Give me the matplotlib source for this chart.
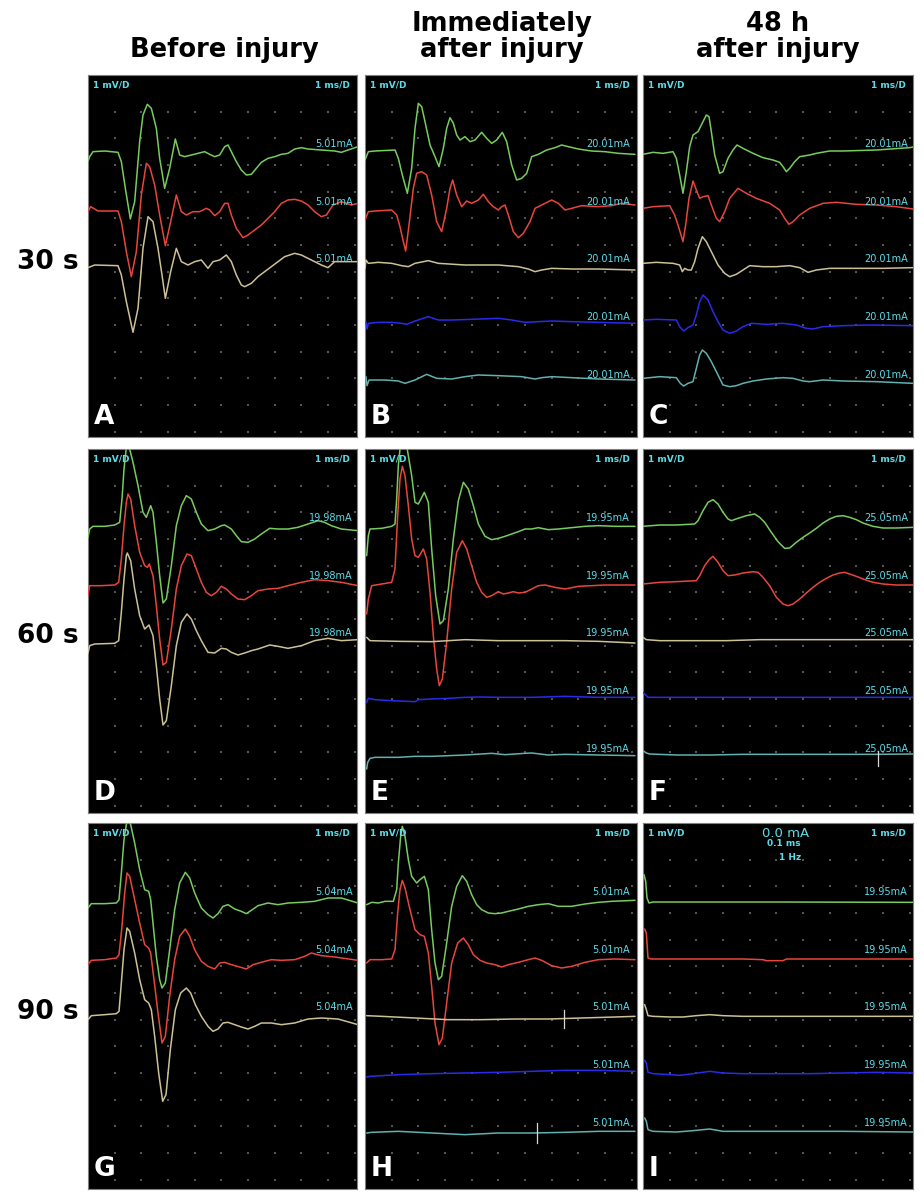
#!/usr/bin/env python3
"""
Painel 3x3 de traçados de osciloscópio (potenciais evocados) antes e depois da lesão.

Cada traçado é uma lista de pares (amostra, nível): 80 amostras por ms e
80 contagens por divisão (1 mV), nível medido para baixo a partir do topo da tela.
"""

import matplotlib.pyplot as plt

SAMPLES_PER_MS = 80
COUNTS_PER_MV = 80

COLUMN_TITLES = ["Before injury", "Immediately\nafter injury", "48 h\nafter injury"]
ROW_TITLES = ["30 s", "60 s", "90 s"]
PANEL_LETTERS = ["A", "B", "C", "D", "E", "F", "G", "H", "I"]

# corrente de estímulo mostrada em cada painel, um rótulo por canal
A_CURRENT = ["5.01mA"] * 3
B_CURRENT = ["20.01mA"] * 5
C_CURRENT = ["20.01mA"] * 5
D_CURRENT = ["19.98mA"] * 3
E_CURRENT = ["19.95mA"] * 5
F_CURRENT = ["25.05mA"] * 5
G_CURRENT = ["5.04mA"] * 3
H_CURRENT = ["5.01mA"] * 5
I_CURRENT = ["19.95mA"] * 5

# ---- 30 s ----
A_GREEN = [(0, 258), (5, 245), (15, 230), (50, 228), (90, 232), (100, 260), (112, 340), (127, 432),
           (140, 380), (155, 200), (165, 120), (178, 88), (190, 100), (205, 160), (215, 250), (230, 340),
           (245, 280), (262, 192), (275, 240), (290, 245), (310, 240), (330, 235), (350, 230), (365, 238),
           (380, 245), (395, 240), (410, 215), (420, 210), (430, 230), (445, 260), (460, 285), (475, 300),
           (490, 298), (505, 280), (520, 262), (540, 250), (560, 245), (580, 238), (600, 235), (620, 222),
           (640, 218), (660, 222), (700, 225), (740, 228), (760, 232), (780, 225), (810, 215)]
A_RED = [(0, 410), (8, 395), (30, 408), (90, 408), (100, 440), (115, 530), (130, 605), (145, 530),
         (160, 360), (175, 265), (185, 275), (200, 330), (215, 420), (232, 512), (248, 440), (265, 360),
         (280, 410), (295, 420), (315, 410), (335, 410), (355, 400), (365, 405), (380, 422), (395, 410),
         (410, 385), (420, 385), (430, 420), (445, 460), (465, 488), (480, 480), (500, 465), (520, 450),
         (540, 430), (560, 410), (580, 385), (600, 375), (620, 373), (640, 378), (660, 390), (680, 410),
         (700, 425), (715, 420), (735, 390), (760, 380), (790, 390), (810, 385)]
A_TAN = [(0, 578), (20, 570), (90, 572), (100, 600), (115, 680), (135, 772), (150, 700), (165, 520),
         (180, 425), (195, 440), (210, 520), (222, 600), (232, 670), (248, 590), (265, 520), (280, 560),
         (300, 570), (320, 560), (340, 555), (360, 580), (375, 560), (395, 555), (415, 540), (430, 560),
         (445, 600), (460, 630), (470, 635), (490, 625), (510, 605), (530, 590), (550, 575), (570, 560),
         (590, 545), (620, 535), (640, 540), (660, 550), (700, 570), (720, 578), (740, 560), (770, 560),
         (810, 560)]

B_GREEN = [(0, 255), (10, 230), (30, 228), (90, 225), (100, 250), (112, 300), (127, 355), (140, 280),
           (150, 160), (160, 85), (170, 95), (180, 140), (195, 210), (210, 245), (222, 275), (235, 220),
           (245, 160), (255, 128), (265, 145), (275, 180), (285, 195), (300, 185), (315, 200), (330, 195),
           (350, 172), (365, 190), (380, 205), (395, 195), (412, 172), (425, 200), (440, 270), (455, 315),
           (470, 310), (485, 295), (500, 245), (520, 238), (545, 225), (570, 218), (590, 210), (610, 215),
           (640, 222), (680, 228), (720, 230), (760, 235), (810, 238)]
B_RED = [(0, 435), (10, 410), (30, 408), (80, 405), (95, 420), (105, 455), (115, 500), (122, 528),
         (132, 450), (145, 340), (155, 295), (170, 290), (185, 300), (200, 360), (215, 440), (230, 470),
         (245, 400), (255, 340), (263, 315), (275, 360), (290, 395), (305, 378), (320, 385), (340, 375),
         (355, 358), (370, 380), (385, 395), (400, 405), (410, 395), (420, 390), (430, 420), (445, 470),
         (460, 488), (475, 475), (495, 440), (510, 400), (530, 390), (560, 375), (580, 385), (600, 405),
         (620, 400), (650, 392), (700, 395), (740, 392), (770, 385), (810, 390)]
B_TAN = [(0, 580), (3, 555), (10, 565), (40, 562), (80, 565), (110, 572), (130, 575), (150, 565),
         (190, 557), (220, 565), (300, 570), (400, 570), (460, 575), (490, 582), (510, 590), (530, 585),
         (560, 580), (620, 582), (700, 582), (810, 585)]
B_BLUE = [(3, 740), (6, 762), (10, 745), (40, 742), (80, 742), (110, 745), (125, 748), (150, 738),
          (190, 725), (220, 735), (260, 735), (320, 733), (400, 730), (440, 735), (480, 742), (520, 740),
          (560, 738), (620, 740), (700, 742), (810, 745)]
B_TEAL = [(3, 905), (6, 932), (12, 915), (60, 915), (100, 918), (120, 925), (150, 915), (185, 898),
          (215, 910), (260, 912), (300, 905), (340, 900), (400, 902), (470, 905), (510, 912), (530, 908),
          (560, 905), (620, 908), (700, 912), (810, 915)]

C_GREEN = [(0, 238), (30, 232), (60, 235), (90, 230), (100, 250), (110, 300), (120, 355), (130, 290),
           (140, 215), (150, 180), (165, 170), (175, 150), (190, 120), (198, 125), (205, 170), (215, 240),
           (230, 295), (240, 290), (255, 250), (270, 225), (282, 210), (300, 220), (330, 235), (360, 248),
           (390, 255), (410, 262), (420, 275), (430, 290), (440, 280), (455, 260), (470, 245), (500, 240),
           (520, 235), (560, 228), (600, 228), (700, 225), (800, 218), (810, 216)]
C_RED = [(0, 400), (30, 395), (80, 392), (95, 420), (105, 450), (120, 500), (128, 450), (138, 370),
         (150, 318), (160, 345), (170, 370), (180, 365), (195, 362), (205, 390), (220, 430), (230, 440),
         (245, 410), (260, 370), (285, 340), (310, 355), (340, 370), (380, 385), (410, 405), (425, 430),
         (438, 448), (450, 440), (470, 420), (500, 400), (540, 385), (580, 382), (640, 388), (700, 390),
         (760, 395), (810, 402)]
C_TAN = [(0, 565), (40, 562), (90, 565), (110, 570), (118, 590), (125, 580), (135, 585), (145, 585),
         (155, 560), (165, 520), (178, 485), (190, 500), (205, 530), (225, 570), (245, 595), (260, 605),
         (280, 598), (300, 585), (320, 572), (360, 575), (400, 575), (440, 572), (470, 578), (495, 592),
         (520, 585), (560, 580), (640, 580), (720, 580), (810, 578)]
C_BLUE = [(0, 735), (40, 733), (100, 735), (110, 755), (122, 768), (135, 758), (150, 750), (160, 720),
          (170, 680), (180, 660), (195, 675), (210, 710), (225, 740), (240, 765), (260, 775), (280, 768),
          (300, 755), (325, 745), (370, 748), (420, 745), (460, 750), (490, 760), (510, 762), (540, 755),
          (600, 752), (680, 750), (810, 752)]
C_TEAL = [(0, 910), (50, 905), (100, 908), (112, 925), (122, 933), (135, 925), (150, 920), (160, 880),
          (170, 840), (178, 825), (190, 835), (205, 860), (225, 900), (240, 930), (260, 935), (280, 932),
          (300, 925), (330, 918), (370, 912), (420, 908), (450, 910), (480, 918), (500, 920), (540, 915),
          (600, 918), (700, 920), (810, 925)]

# ---- 60 s ----
D_GREEN = [(0, 265), (5, 240), (15, 232), (50, 232), (80, 228), (95, 220), (102, 150), (108, 60),
           (115, -5), (125, 0), (135, 40), (150, 110), (165, 190), (175, 205), (188, 170), (195, 190),
           (205, 280), (215, 380), (225, 462), (235, 450), (250, 350), (265, 230), (280, 170), (295, 140),
           (310, 150), (325, 190), (340, 225), (360, 245), (380, 240), (400, 230), (410, 228), (430, 240),
           (445, 260), (460, 278), (480, 280), (500, 270), (520, 255), (545, 238), (570, 240), (600, 240),
           (630, 235), (660, 225), (690, 215), (710, 220), (730, 230), (760, 240), (810, 245)]
D_RED = [(0, 438), (5, 410), (40, 410), (80, 408), (92, 400), (100, 330), (108, 230), (115, 160),
         (120, 135), (128, 150), (140, 230), (155, 310), (170, 350), (178, 355), (184, 345), (190, 365),
         (195, 380), (205, 470), (215, 570), (225, 648), (235, 640), (250, 540), (265, 420), (280, 350),
         (297, 315), (310, 320), (325, 360), (340, 400), (355, 430), (370, 440), (385, 430), (400, 412),
         (415, 420), (430, 435), (450, 450), (470, 452), (490, 440), (510, 425), (540, 420), (570, 418),
         (600, 410), (640, 400), (680, 392), (720, 395), (760, 400), (810, 410)]
D_TAN = [(0, 612), (5, 590), (20, 585), (80, 583), (92, 575), (100, 490), (108, 390), (115, 320),
         (118, 312), (128, 335), (140, 420), (155, 500), (170, 540), (183, 528), (195, 560), (205, 650),
         (215, 750), (225, 828), (235, 815), (250, 710), (265, 590), (280, 520), (297, 495), (310, 510),
         (325, 545), (340, 575), (360, 610), (380, 612), (400, 598), (415, 600), (430, 610), (450, 618),
         (470, 612), (490, 605), (510, 600), (545, 588), (570, 592), (600, 598), (640, 590), (680, 575),
         (720, 568), (760, 575), (810, 572)]

E_GREEN = [(5, 320), (10, 260), (15, 240), (50, 238), (80, 232), (90, 225), (95, 150), (100, 50),
           (105, 0), (110, -20), (125, -10), (140, 80), (150, 160), (160, 165), (178, 130), (190, 160),
           (200, 300), (212, 440), (225, 525), (235, 515), (250, 420), (265, 270), (280, 155), (295, 100),
           (310, 120), (325, 170), (340, 225), (360, 262), (380, 272), (400, 268), (420, 262), (440, 255),
           (460, 248), (480, 240), (500, 240), (520, 236), (550, 242), (580, 240), (620, 236), (660, 232),
           (700, 230), (750, 232), (810, 232)]
E_RED = [(5, 495), (10, 450), (20, 410), (50, 405), (80, 400), (90, 360), (98, 200), (105, 90),
         (112, 52), (120, 80), (130, 170), (140, 270), (150, 320), (160, 325), (175, 300), (185, 330),
         (195, 430), (205, 560), (215, 660), (223, 710), (232, 690), (245, 580), (260, 420), (275, 310),
         (292, 275), (305, 300), (320, 350), (335, 400), (350, 430), (365, 445), (380, 440), (400, 428),
         (415, 435), (430, 432), (445, 428), (460, 432), (480, 430), (500, 420), (520, 410), (540, 408),
         (570, 415), (600, 420), (640, 412), (680, 410), (720, 408), (760, 408), (810, 408)]
E_TAN = [(5, 565), (15, 575), (100, 577), (200, 578), (300, 572), (400, 575), (500, 575), (600, 575),
         (700, 577), (810, 582)]
E_BLUE = [(5, 760), (10, 748), (30, 752), (80, 755), (150, 758), (160, 752), (200, 750), (250, 748),
          (300, 745), (350, 744), (400, 745), (500, 745), (600, 742), (700, 745), (810, 745)]
E_TEAL = [(5, 960), (8, 940), (15, 928), (30, 925), (100, 925), (150, 922), (200, 922), (250, 920),
          (300, 918), (380, 913), (420, 917), (480, 913), (500, 912), (550, 918), (600, 916), (700, 918),
          (810, 920)]

F_GREEN = [(0, 232), (50, 228), (100, 228), (155, 225), (165, 215), (180, 185), (195, 160), (210, 152),
           (225, 165), (240, 190), (255, 210), (265, 215), (285, 208), (310, 200), (335, 195), (350, 205),
           (365, 220), (385, 250), (405, 278), (425, 298), (440, 297), (460, 280), (480, 265), (500, 252),
           (520, 238), (540, 222), (560, 210), (580, 202), (600, 200), (620, 205), (640, 212), (660, 222),
           (690, 232), (720, 237), (760, 237), (810, 235)]
F_RED = [(0, 405), (50, 400), (100, 398), (160, 395), (170, 380), (185, 350), (200, 330), (210, 322),
         (225, 340), (240, 365), (255, 380), (275, 378), (300, 372), (330, 368), (345, 370), (360, 385),
         (380, 410), (400, 445), (420, 465), (435, 470), (450, 465), (470, 450), (490, 432), (510, 415),
         (530, 400), (550, 388), (570, 378), (590, 372), (605, 370), (620, 375), (640, 382), (660, 390),
         (690, 400), (720, 405), (760, 408), (810, 408)]
F_TAN = [(0, 565), (10, 572), (50, 575), (150, 575), (250, 575), (350, 572), (450, 572), (550, 572),
         (650, 572), (750, 572), (810, 572)]
F_BLUE = [(0, 730), (10, 740), (15, 745), (100, 745), (200, 745), (300, 745), (400, 745), (500, 745),
          (600, 745), (700, 745), (810, 745)]
F_TEAL = [(0, 905), (10, 912), (20, 915), (100, 918), (200, 918), (300, 916), (400, 916), (500, 916),
          (600, 916), (700, 916), (810, 915)]

# ---- 90 s ----
G_GREEN = [(0, 255), (10, 242), (50, 242), (85, 240), (93, 230), (100, 150), (108, 50), (115, 5),
           (120, -10), (128, 5), (140, 60), (155, 140), (170, 200), (182, 205), (188, 230), (195, 300),
           (205, 400), (215, 470), (222, 495), (232, 480), (245, 380), (260, 260), (275, 180), (292, 148),
           (305, 165), (320, 210), (340, 255), (360, 275), (375, 285), (390, 272), (405, 250), (420, 245),
           (440, 258), (460, 265), (475, 272), (490, 262), (510, 248), (540, 240), (570, 245), (600, 240),
           (640, 238), (680, 235), (720, 225), (760, 225), (810, 240)]
G_RED = [(0, 425), (10, 412), (50, 410), (85, 405), (93, 395), (102, 310), (110, 210), (117, 150),
         (125, 160), (140, 230), (155, 300), (170, 365), (182, 375), (188, 390), (198, 470), (210, 570),
         (222, 660), (232, 640), (245, 520), (260, 410), (275, 340), (292, 318), (305, 340), (320, 380),
         (340, 415), (360, 430), (380, 438), (395, 420), (410, 418), (430, 425), (455, 432), (475, 438),
         (495, 425), (520, 418), (550, 410), (580, 412), (620, 410), (650, 400), (670, 390), (700, 398),
         (740, 402), (810, 412)]
G_TAN = [(0, 590), (10, 578), (50, 575), (85, 572), (93, 565), (100, 480), (108, 380), (117, 315),
         (125, 325), (140, 390), (155, 470), (170, 530), (182, 540), (190, 560), (200, 640), (212, 750),
         (224, 835), (234, 815), (247, 680), (262, 560), (278, 510), (295, 495), (308, 510), (322, 545),
         (340, 580), (360, 610), (375, 625), (390, 618), (405, 600), (420, 598), (440, 605), (460, 612),
         (480, 618), (500, 610), (520, 600), (550, 600), (580, 605), (620, 600), (660, 588), (700, 585),
         (750, 588), (810, 605)]

H_GREEN = [(5, 245), (20, 238), (40, 240), (60, 235), (85, 235), (95, 200), (100, 120), (107, 40),
           (112, 10), (120, 40), (130, 110), (140, 160), (155, 180), (165, 170), (178, 160), (190, 200),
           (200, 320), (210, 420), (220, 470), (230, 460), (245, 360), (260, 250), (275, 190), (292, 158),
           (305, 175), (320, 215), (335, 245), (350, 260), (370, 270), (390, 272), (410, 270), (430, 265),
           (460, 258), (490, 250), (520, 245), (550, 242), (580, 250), (620, 250), (660, 243), (700, 238),
           (740, 235), (810, 232)]
H_RED = [(5, 420), (15, 410), (50, 410), (80, 408), (90, 380), (98, 270), (105, 200), (112, 172),
         (120, 195), (135, 260), (150, 320), (165, 335), (178, 340), (190, 390), (200, 490), (210, 600),
         (222, 665), (232, 645), (245, 540), (260, 420), (278, 360), (295, 345), (310, 365), (325, 395),
         (345, 412), (365, 420), (390, 425), (410, 432), (430, 425), (460, 418), (490, 410), (510, 405),
         (530, 412), (560, 428), (590, 435), (620, 430), (660, 418), (700, 410), (750, 408), (810, 410)]
H_TAN = [(5, 578), (50, 580), (150, 585), (250, 590), (350, 590), (450, 588), (550, 588), (650, 585),
         (750, 582), (810, 580)]
H_BLUE = [(5, 762), (15, 760), (100, 755), (200, 752), (300, 750), (400, 748), (500, 745), (600, 742),
          (700, 742), (810, 745)]
H_TEAL = [(5, 930), (20, 928), (100, 925), (200, 930), (300, 935), (400, 930), (500, 930), (600, 928),
          (700, 925), (810, 925)]

I_GREEN = [(3, 155), (8, 175), (12, 225), (18, 240), (30, 237), (100, 237), (400, 237), (810, 238)]
I_RED = [(5, 318), (10, 330), (15, 405), (25, 408), (100, 408), (300, 408), (360, 410), (370, 413),
         (420, 413), (430, 408), (600, 408), (810, 408)]
I_TAN = [(5, 545), (10, 560), (15, 578), (30, 580), (80, 582), (120, 582), (160, 578), (200, 575),
         (240, 578), (300, 580), (500, 580), (810, 580)]
I_BLUE = [(5, 712), (10, 720), (15, 748), (30, 752), (80, 755), (110, 757), (150, 752), (200, 745),
          (240, 750), (300, 752), (400, 752), (500, 752), (600, 750), (700, 748), (810, 750)]
I_TEAL = [(5, 885), (10, 895), (15, 920), (30, 925), (100, 927), (150, 923), (200, 918), (240, 925),
          (400, 925), (600, 925), (810, 927)]

# marcas de cursor verticais: (painel, amostra, nível inicial, nível final)
CURSORS = [("F", 705, 905, 950), ("H", 597, 560, 615), ("H", 515, 900, 960)]

# configuração do estímulo exibida no painel I
I_STIM = ["0.0 mA", "0.1 ms", "1 Hz"]

CHANNEL_COLORS = ["#78cc5e", "#e8463c", "#cdc196", "#2a2aea", "#63b0b0"]
SCOPE_TEXT = "#5cdce8"

# posição dos painéis na figura (px)
COL_X = [(88, 357), (365, 637), (643, 913)]
ROW_Y = [(75, 437), (449, 813), (823, 1189)]
FIG_W, FIG_H = 924, 1197

PANELS = {
    "A": ([A_GREEN, A_RED, A_TAN], A_CURRENT),
    "B": ([B_GREEN, B_RED, B_TAN, B_BLUE, B_TEAL], B_CURRENT),
    "C": ([C_GREEN, C_RED, C_TAN, C_BLUE, C_TEAL], C_CURRENT),
    "D": ([D_GREEN, D_RED, D_TAN], D_CURRENT),
    "E": ([E_GREEN, E_RED, E_TAN, E_BLUE, E_TEAL], E_CURRENT),
    "F": ([F_GREEN, F_RED, F_TAN, F_BLUE, F_TEAL], F_CURRENT),
    "G": ([G_GREEN, G_RED, G_TAN], G_CURRENT),
    "H": ([H_GREEN, H_RED, H_TAN, H_BLUE, H_TEAL], H_CURRENT),
    "I": ([I_GREEN, I_RED, I_TAN, I_BLUE, I_TEAL], I_CURRENT),
}


def to_ms(samples):
    return [s / SAMPLES_PER_MS for s in samples]


def to_mv(levels):
    return [-c / COUNTS_PER_MV for c in levels]


def draw_panel(fig, letter, col, row):
    x0, x1 = COL_X[col]
    y0, y1 = ROW_Y[row]
    ax = fig.add_axes([x0 / FIG_W, 1 - y1 / FIG_H, (x1 - x0) / FIG_W, (y1 - y0) / FIG_H])
    ax.set_facecolor("black")
    xmax = (x1 - x0) * 3 / SAMPLES_PER_MS
    ymin = -(y1 - y0) * 3 / COUNTS_PER_MV
    ax.set_xlim(0, xmax)
    ax.set_ylim(ymin, 0)
    ax.set_xticks([])
    ax.set_yticks([])
    for sp in ax.spines.values():
        sp.set_color("#808080")
        sp.set_linewidth(0.8)

    # pontos da grade do osciloscópio (1 divisão)
    gx, gy = [], []
    k = 1
    while -(0.375 + k) > ymin:
        for i in range(1, 11):
            if i < xmax:
                gx.append(i)
                gy.append(-(0.375 + k))
        k += 1
    ax.scatter(gx, gy, s=0.8, color="#555555", marker="s", linewidths=0, zorder=1)

    traces, currents = PANELS[letter]
    for ch, (trace, current) in enumerate(zip(traces, currents)):
        t = to_ms([p[0] for p in trace])
        v = to_mv([p[1] for p in trace])
        ax.plot(t, v, color=CHANNEL_COLORS[ch], lw=1.1, zorder=3,
                solid_joinstyle="round", solid_capstyle="round")
        ax.text(9.94, -(207 + 173 * ch) / COUNTS_PER_MV, current, color=SCOPE_TEXT,
                fontsize=7, ha="right", va="center", zorder=4)

    for name, s, a, b in CURSORS:
        if name == letter:
            ax.plot(to_ms([s, s]), to_mv([a, b]), color="#d8d8d8", lw=0.9, zorder=4)

    ax.text(0.018, 0.985, "1 mV/D", transform=ax.transAxes, color=SCOPE_TEXT,
            fontsize=6.5, fontweight="bold", ha="left", va="top")
    ax.text(0.975, 0.985, "1 ms/D", transform=ax.transAxes, color=SCOPE_TEXT,
            fontsize=6.5, fontweight="bold", ha="right", va="top")
    ax.text(0.022, 0.018, letter, transform=ax.transAxes, color="white",
            fontsize=19, fontweight="bold", ha="left", va="bottom", zorder=5)

    if letter == "I":
        ax.text(0.528, 0.99, I_STIM[0], transform=ax.transAxes, color=SCOPE_TEXT,
                fontsize=9.5, ha="center", va="top")
        ax.text(0.585, 0.955, I_STIM[1], transform=ax.transAxes, color=SCOPE_TEXT,
                fontsize=6.5, fontweight="bold", ha="right", va="top")
        ax.text(0.585, 0.918, I_STIM[2], transform=ax.transAxes, color=SCOPE_TEXT,
                fontsize=6.5, fontweight="bold", ha="right", va="top")
    return ax


def main():
    fig = plt.figure(figsize=(FIG_W / 100, FIG_H / 100), dpi=100)
    fig.patch.set_facecolor("white")

    for idx, letter in enumerate(PANEL_LETTERS):
        draw_panel(fig, letter, idx % 3, idx // 3)

    title_x = [224, 502, 778]
    for x, title in zip(title_x, COLUMN_TITLES):
        fig.text(x / FIG_W, 1 - 63 / FIG_H, title, fontsize=18.5, fontweight="bold",
                 ha="center", va="bottom", linespacing=1.0)

    row_y = [262, 636, 1012]
    for y, title in zip(row_y, ROW_TITLES):
        fig.text(48 / FIG_W, 1 - y / FIG_H, title, fontsize=19, fontweight="bold",
                 ha="center", va="center")

    fig.savefig("out.png", dpi=100)
    plt.close(fig)


if __name__ == "__main__":
    main()
